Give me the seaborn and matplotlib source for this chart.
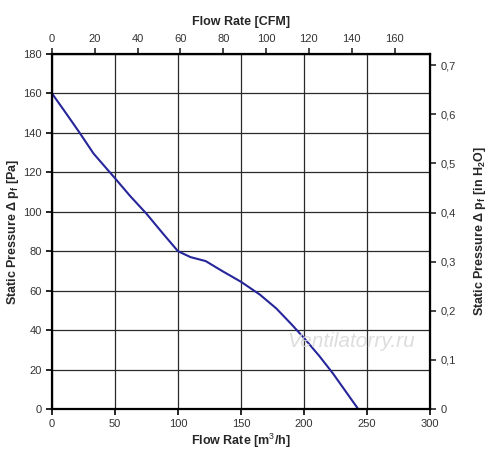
import numpy as np
import pandas as pd
import matplotlib
matplotlib.use("Agg")
import matplotlib.pyplot as plt
from matplotlib.ticker import FuncFormatter
import seaborn as sns

# ---------------- data ----------------
flow_m3h = [0, 10, 22, 33, 50, 62, 75, 88, 100, 110, 122, 135, 150, 165, 178, 190, 200, 212, 223, 233, 243]
pressure_pa = [160, 151, 140, 129.5, 117, 108, 99, 89, 80, 77, 75, 70, 64.5, 58, 51, 43, 36, 27, 18, 9, 0]

x_ticks = [0, 50, 100, 150, 200, 250, 300]
y_ticks = [0, 20, 40, 60, 80, 100, 120, 140, 160, 180]
cfm_ticks = [0, 20, 40, 60, 80, 100, 120, 140, 160]
inh2o_ticks = [0, 0.1, 0.2, 0.3, 0.4, 0.5, 0.6, 0.7]

M3H_TO_CFM = 0.588578
PA_PER_INH2O = 249.089

df = pd.DataFrame({"flow": flow_m3h, "pressure": pressure_pa})

sns.set_style("white")
plt.rcParams["font.family"] = ["Liberation Sans", "DejaVu Sans"]
plt.rcParams["mathtext.fontset"] = "custom"
plt.rcParams["mathtext.rm"] = "Liberation Sans"
plt.rcParams["mathtext.it"] = "Liberation Sans"
plt.rcParams["mathtext.bf"] = "Liberation Sans:bold"

fig = plt.figure(figsize=(5, 4.73), dpi=100)
ax = fig.add_axes([0.104, 0.1353, 0.756, 0.7505])

sns.lineplot(data=df, x="flow", y="pressure", ax=ax, color="#26269a", linewidth=1.5)

ax.set_xlim(0, 300)
ax.set_ylim(0, 180)
ax.set_xticks(x_ticks)
ax.set_yticks(y_ticks)
ax.grid(True, color="#2a2a2a", linewidth=0.9)
for s in ax.spines.values():
    s.set_color("black")
    s.set_linewidth(1.6)
ax.tick_params(direction="out", length=4, width=1.2, color="black",
               labelsize=8, labelcolor="#333333", left=True, bottom=True)

ax.set_xlabel("Flow Rate [m$^3$/h]", fontsize=9, fontweight="bold", labelpad=2)
ax.set_ylabel("Static Pressure Δ p$_\\mathbf{f}$ [Pa]", fontsize=9, fontweight="bold")
ax.yaxis.set_label_coords(-0.082, 0.5)

# top axis in CFM
top = ax.secondary_xaxis("top", functions=(lambda q: q * M3H_TO_CFM, lambda c: c / M3H_TO_CFM))
top.set_xticks(cfm_ticks)
top.tick_params(direction="out", length=4, width=1.2, labelsize=8, labelcolor="#333333")
top.set_xlabel("Flow Rate [CFM]", fontsize=9, fontweight="bold", labelpad=6)

# right axis in inches of water
right = ax.secondary_yaxis("right", functions=(lambda p: p / PA_PER_INH2O, lambda h: h * PA_PER_INH2O))
right.set_yticks(inh2o_ticks)
right.yaxis.set_major_formatter(FuncFormatter(lambda v, pos: "0" if v == 0 else f"{v:.1f}".replace(".", ",")))
right.tick_params(direction="out", length=4, width=1.2, labelsize=8, labelcolor="#333333")
right.set_ylabel("Static Pressure Δ p$_\\mathbf{f}$ [in H$_\\mathbf{2}$O]", fontsize=9, fontweight="bold", labelpad=12)

ax.text(0.79, 0.19, "Ventilatorry.ru", transform=ax.transAxes, fontsize=15,
        style="italic", color="#d8d8d8", alpha=0.85, ha="center", va="center")

fig.savefig("out.png", dpi=100)
